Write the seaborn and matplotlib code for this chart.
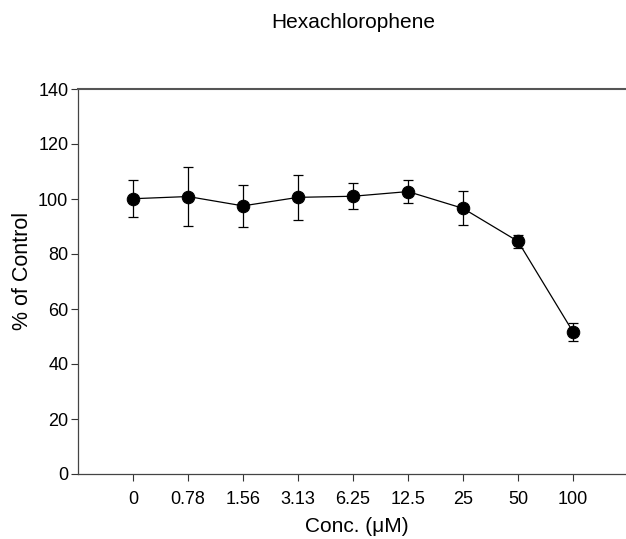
import matplotlib
matplotlib.use("Agg")
import matplotlib.pyplot as plt
import seaborn as sns
import numpy as np

conc_labels = ["0", "0.78", "1.56", "3.13", "6.25", "12.5", "25", "50", "100"]
mean_pct = [100.1, 100.9, 97.5, 100.6, 101.0, 102.7, 96.6, 84.6, 51.7]
sd_pct = [6.7, 10.7, 7.5, 8.2, 4.7, 4.3, 6.2, 2.4, 3.3]
y_ticks = [0, 20, 40, 60, 80, 100, 120, 140]

sns.set_theme(style="ticks")
plt.rcParams['font.family'] = ['Liberation Sans', 'DejaVu Sans']
plt.rcParams['text.color'] = 'black'
plt.rcParams['axes.labelcolor'] = 'black'
plt.rcParams['xtick.color'] = 'black'
plt.rcParams['ytick.color'] = 'black'

fig = plt.figure(figsize=(6.26, 5.39), dpi=100)
ax = fig.add_axes([78/626, 1 - 474/539, 550/626, (474 - 89)/539])

pos = list(range(len(conc_labels)))
ax.errorbar(pos, mean_pct, yerr=sd_pct, fmt='none', ecolor='black',
            elinewidth=0.9, capsize=3.6, capthick=0.9, zorder=2)
sns.lineplot(x=pos, y=mean_pct, ax=ax, color='black', linewidth=0.9,
             marker='o', markersize=9, markeredgecolor='black', zorder=3)

ax.set_xlim(-1, 9)
ax.set_ylim(0, 140)
ax.set_xticks(pos)
ax.set_xticklabels(conc_labels)
ax.set_yticks(y_ticks)
ax.tick_params(axis='both', labelsize=13, length=5, width=0.8, color='#333333',
               labelcolor='black', pad=7)
ax.tick_params(axis='y', pad=2)
for s in ['left', 'bottom', 'top']:
    ax.spines[s].set_color('#444444')
    ax.spines[s].set_linewidth(0.9)
ax.spines['top'].set_linewidth(1.5)
ax.spines['top'].set_color('#555555')
ax.spines['right'].set_visible(False)

ax.set_xlabel("Conc. (\u03bcM)", fontsize=15, color='black')
ax.xaxis.set_label_coords((357 - 78) / 550, -(527 - 474) / 385)
ax.xaxis.label.set_va('center')
ax.set_ylabel("% of Control", fontsize=15.5, color='black')
ax.yaxis.set_label_coords(-0.081, 0.527)
fig.text(353/626, 1 - 22/539, "Hexachlorophene", ha='center', va='center',
         fontsize=15, color='black')

fig.savefig("out.png", dpi=100)
